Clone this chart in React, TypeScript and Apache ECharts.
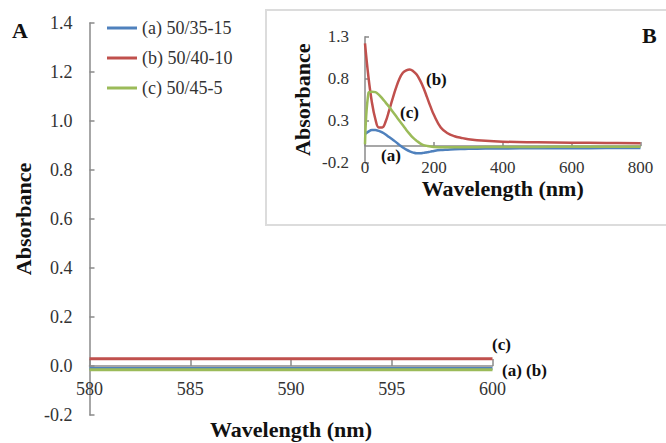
import React, { useEffect, useRef } from "react";
import * as echarts from "echarts";

const seriesNames = ["(a) 50/35-15", "(b) 50/40-10", "(c) 50/45-5"];
const seriesColors = ["#4F81BD", "#C0504D", "#9BBB59"];

// Main panel A (580–600 nm)
const mainWavelength = [580, 585, 590, 595, 600];
const mainA = [-0.01, -0.01, -0.01, -0.01, -0.01];
const mainB = [0.03, 0.03, 0.03, 0.03, 0.03];
const mainC = [-0.015, -0.015, -0.015, -0.015, -0.015];

// Inset panel B (0–800 nm)
const insetWavelength = [
  0, 10, 20, 30, 40, 50, 60, 70, 80, 90, 100, 110, 120, 130, 140, 150, 160, 170, 180, 190, 200,
  220, 240, 260, 280, 300, 350, 400, 500, 600, 700, 800,
];
const insetA = [
  0.14, 0.17, 0.19, 0.19, 0.178, 0.16, 0.135, 0.105, 0.075, 0.045, 0.012, -0.02, -0.045, -0.065,
  -0.08, -0.088, -0.088, -0.083, -0.075, -0.068, -0.06, -0.05, -0.045, -0.04, -0.037, -0.035,
  -0.032, -0.03, -0.028, -0.027, -0.026, -0.025,
];
const insetB = [
  1.22, 0.82, 0.52, 0.32, 0.22, 0.22, 0.29, 0.42, 0.56, 0.69, 0.8, 0.87, 0.9, 0.91, 0.89, 0.85,
  0.78, 0.69, 0.58, 0.47, 0.37, 0.22, 0.15, 0.115, 0.095, 0.08, 0.06, 0.05, 0.043, 0.038, 0.035,
  0.033,
];
const insetC = [
  0.02, 0.63, 0.645, 0.64, 0.61, 0.565, 0.515, 0.465, 0.41, 0.355, 0.3, 0.245, 0.19, 0.14, 0.095,
  0.06, 0.03, 0.01, 0.0, -0.008, -0.012, -0.015, -0.015, -0.015, -0.015, -0.015, -0.014, -0.013,
  -0.012, -0.011, -0.01, -0.01,
];

const FONT = "'Times New Roman', 'Liberation Serif', serif";
const AXIS_COLOR = "#8a8a8a";
const LABEL_COLOR = "#333";

function pairs(xs: number[], ys: number[]) {
  return xs.map((x, i) => [x, ys[i]]);
}

export default function App() {
  const ref = useRef<HTMLDivElement>(null);

  useEffect(() => {
    if (!ref.current) return;
    const chart = echarts.init(ref.current, null, { renderer: "svg" });

    const axisLine = { onZero: true, lineStyle: { color: AXIS_COLOR, width: 1.5 } };
    const tickLabel = (size: number) => ({
      fontFamily: FONT,
      fontSize: size,
      color: LABEL_COLOR,
    });
    const nameStyle = (size: number) => ({
      fontFamily: FONT,
      fontSize: size,
      fontWeight: "bold" as const,
      color: "#111",
    });
    const curveLabel = (text: string, left: number, top: number) => ({
      type: "text",
      left,
      top,
      z: 10,
      style: { text, fontFamily: FONT, fontSize: 17, fontWeight: "bold", fill: "#111" },
    });

    const mainData = [mainA, mainB, mainC];
    const insetData = [insetA, insetB, insetC];

    const option: any = {
      animation: false,
      backgroundColor: "#fff",
      textStyle: { fontFamily: FONT },
      legend: {
        data: seriesNames.map((name) => ({ name, icon: "rect" })),
        orient: "vertical",
        left: 102,
        top: 14,
        itemWidth: 30,
        itemHeight: 3,
        itemGap: 12,
        textStyle: { fontFamily: FONT, fontSize: 18, color: LABEL_COLOR },
      },
      graphic: [
        {
          type: "rect",
          z: 0,
          shape: { x: 266, y: 10, width: 430, height: 215 },
          style: { fill: "#fff", stroke: "#dcdcdc", lineWidth: 2 },
        },
        {
          type: "text",
          left: 12,
          top: 19,
          style: { text: "A", fontFamily: FONT, fontSize: 22, fontWeight: "bold", fill: "#111" },
        },
        {
          type: "text",
          left: 642,
          top: 24,
          style: { text: "B", fontFamily: FONT, fontSize: 22, fontWeight: "bold", fill: "#111" },
        },
        curveLabel("(c)", 492, 336),
        curveLabel("(a) (b)", 502, 362),
        curveLabel("(b)", 426, 71),
        curveLabel("(c)", 400, 104),
        curveLabel("(a)", 381, 147),
      ],
      grid: [
        { left: 89.5, top: 23, width: 403, height: 392, outerBoundsMode: "none", containLabel: false },
        { left: 365, top: 36.7, width: 275.5, height: 126, outerBoundsMode: "none", containLabel: false },
      ],
      xAxis: [
        {
          type: "value",
          gridIndex: 0,
          min: 580,
          max: 600,
          interval: 5,
          axisLine,
          axisTick: { inside: true, length: 7, lineStyle: { color: AXIS_COLOR, width: 1.5 } },
          axisLabel: { ...tickLabel(18), margin: -35 },
          splitLine: { show: false },
          name: "Wavelength (nm)",
          nameLocation: "middle",
          nameGap: 3,
          nameMoveOverlap: false,
          nameTextStyle: nameStyle(22),
        },
        {
          type: "value",
          gridIndex: 1,
          min: 0,
          max: 800,
          interval: 200,
          axisLine,
          axisTick: { inside: true, length: 4, lineStyle: { color: AXIS_COLOR, width: 1.5 } },
          axisLabel: { ...tickLabel(17), margin: -4 },
          splitLine: { show: false },
          name: "Wavelength (nm)",
          nameLocation: "middle",
          nameGap: 15,
          nameMoveOverlap: false,
          nameTextStyle: nameStyle(22),
        },
      ],
      yAxis: [
        {
          type: "value",
          gridIndex: 0,
          min: -0.2,
          max: 1.4,
          interval: 0.2,
          axisLine: { show: true, onZero: false, lineStyle: { color: AXIS_COLOR, width: 1.5 } },
          axisTick: { show: true, inside: true, length: 5, lineStyle: { color: AXIS_COLOR, width: 1.5 } },
          axisLabel: { ...tickLabel(18), margin: 17, formatter: (v: number) => v.toFixed(1) },
          splitLine: { show: false },
          name: "Absorbance",
          nameLocation: "middle",
          nameRotate: 90,
          nameGap: 55,
          nameMoveOverlap: false,
          nameTextStyle: nameStyle(22),
        },
        {
          type: "value",
          gridIndex: 1,
          min: -0.2,
          max: 1.3,
          interval: 0.5,
          axisLine: { show: true, onZero: false, lineStyle: { color: AXIS_COLOR, width: 1.5 } },
          axisTick: { show: true, inside: true, length: 4, lineStyle: { color: AXIS_COLOR, width: 1.5 } },
          axisLabel: { ...tickLabel(17), margin: 16, formatter: (v: number) => v.toFixed(1) },
          splitLine: { show: false },
          name: "Absorbance",
          nameLocation: "middle",
          nameRotate: 90,
          nameGap: 52,
          nameMoveOverlap: false,
          nameTextStyle: nameStyle(22),
        },
      ],
      series: [
        ...seriesNames.map((name, i) => ({
          name,
          type: "line",
          xAxisIndex: 0,
          yAxisIndex: 0,
          data: pairs(mainWavelength, mainData[i]),
          showSymbol: false,
          symbol: "none",
          lineStyle: { color: seriesColors[i], width: 3 },
          itemStyle: { color: seriesColors[i] },
          z: 3,
        })),
        ...seriesNames.map((name, i) => ({
          name,
          type: "line",
          xAxisIndex: 1,
          yAxisIndex: 1,
          data: pairs(insetWavelength, insetData[i]),
          showSymbol: false,
          symbol: "none",
          smooth: 0.4,
          lineStyle: { color: seriesColors[i], width: 2.5 },
          itemStyle: { color: seriesColors[i] },
          z: 3,
        })),
      ],
    };

    chart.setOption(option);
    return () => chart.dispose();
  }, []);

  return <div ref={ref} style={{ width: 666, height: 443, position: "absolute", left: 0, top: 0 }} />;
}
